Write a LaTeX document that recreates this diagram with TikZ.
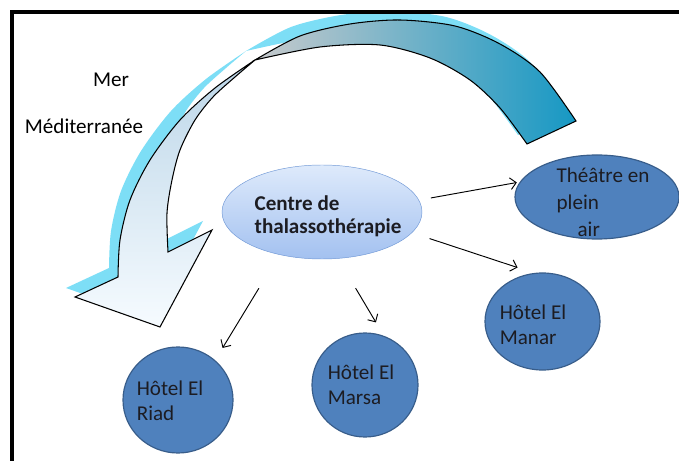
\documentclass[tikz,border=0pt]{standalone}
\usepackage{fontspec}
\setmainfont{Carlito}
\usetikzlibrary{arrows.meta,shapes.geometric}

\definecolor{hotelblue}{RGB}{79,129,189}
\definecolor{hotelline}{RGB}{56,93,138}
\definecolor{centretop}{RGB}{222,234,251}
\definecolor{centrebot}{RGB}{163,193,240}
\definecolor{centreline}{RGB}{112,152,214}
\definecolor{seaglow}{RGB}{125,222,246}
\definecolor{bandgrey}{RGB}{200,202,204}
\definecolor{bandmid}{RGB}{190,200,206}
\definecolor{bandteal}{RGB}{22,152,196}
\definecolor{fronttop}{RGB}{188,214,232}
\definecolor{frontbot}{RGB}{246,251,255}
\definecolor{txtdark}{RGB}{28,28,34}

% the two halves of the big curved arrow
\newcommand{\backband}[1]{\path[#1] plot[smooth] coordinates {(255,60) (300,36) (350,24) (400,20) (455,26) (500,44) (540,72) (576,121)}
  -- plot[smooth] coordinates {(527,144) (500,108) (470,80) (430,58) (380,45) (320,47) (255,60)} -- cycle;}
\newcommand{\frontband}[1]{\path[#1] plot[smooth] coordinates {(255,60) (215,88) (180,120) (150,160) (130,200) (120,240) (118,277)}
  -- (75,297) -- (160,327) -- (212,230) -- (168,252)
  -- plot[smooth] coordinates {(168,252) (167,213) (172,180) (180,150) (195,120) (213,97) (235,77) (255,60)} -- cycle;}

\begin{document}
\begin{tikzpicture}[x=0.03cm,y=-0.03cm,
	>={Straight Barb[length=5pt,width=10pt]},
	hotel/.style={ellipse,draw=hotelline,fill=hotelblue,line width=1pt,inner sep=0pt},
	txt/.style={text=txtdark,align=left,inner sep=0pt,font=\fontsize{18}{21.3}\selectfont},
	link/.style={->,line width=0.8pt}]
	\useasboundingbox (0,0) rectangle (679,461);

	% sea arrow
	\backband{fill=seaglow,shift={(-9,-9)}}
	\frontband{fill=seaglow,shift={(-9,-9)}}
	\backband{draw,line width=0.9pt,left color=bandgrey,middle color=bandmid,right color=bandteal}
	\frontband{draw,line width=0.9pt,top color=fronttop,bottom color=frontbot}

	\node[txt,text=black] (mer) at (111,80) {Mer};
	\node[txt,text=black] (med) at (84,126) {Méditerranée};

	\node[ellipse,draw=centreline,top color=centretop,bottom color=centrebot,
		minimum width=60mm,minimum height=28.2mm,inner sep=0pt] (centre) at (322,212) {};
	\node[txt,font=\fontsize{18}{19.6}\selectfont\bfseries] (centre-t) at (328,216) {Centre de\\thalassothérapie};

	\node[hotel,minimum width=49.2mm,minimum height=25.2mm] (theatre) at (597,197) {};
	\node[txt,font=\fontsize{18}{23}\selectfont] (theatre-t) at (603,202) {Théâtre en\\plein\\\hspace*{6.3mm}air};

	\node[hotel,minimum width=34.5mm,minimum height=29.1mm] (manar) at (542.5,321.5) {};
	\node[txt] (manar-t) at (533,325) {Hôtel El\\Manar};

	\node[hotel,minimum width=31.8mm,minimum height=31.2mm] (marsa) at (365,385) {};
	\node[txt] (marsa-t) at (361,385) {Hôtel El\\Marsa};

	\node[hotel,minimum width=33mm,minimum height=31.8mm] (riad) at (178,400) {};
	\node[txt] (riad-t) at (170,401) {Hôtel El\\Riad};

	\draw[link,shorten <=33.5pt,shorten >=12.2pt] (centre.225) -- (riad.47.5);
	\draw[link,shorten <=29.3pt,shorten >=13.3pt] (centre.289.7) -- (marsa.69.1);
	\draw[link,shorten <=10.3pt,shorten >=2.5pt] (centre.7.8) -- (theatre.169.3);
	\draw[link,shorten <=15.8pt,shorten >=14.7pt] (centre.347.5) -- (manar.100.9);

	% frame
	\draw[line width=3.4pt] (12,461) -- (12,12) -- (679,12);
\end{tikzpicture}
\end{document}
